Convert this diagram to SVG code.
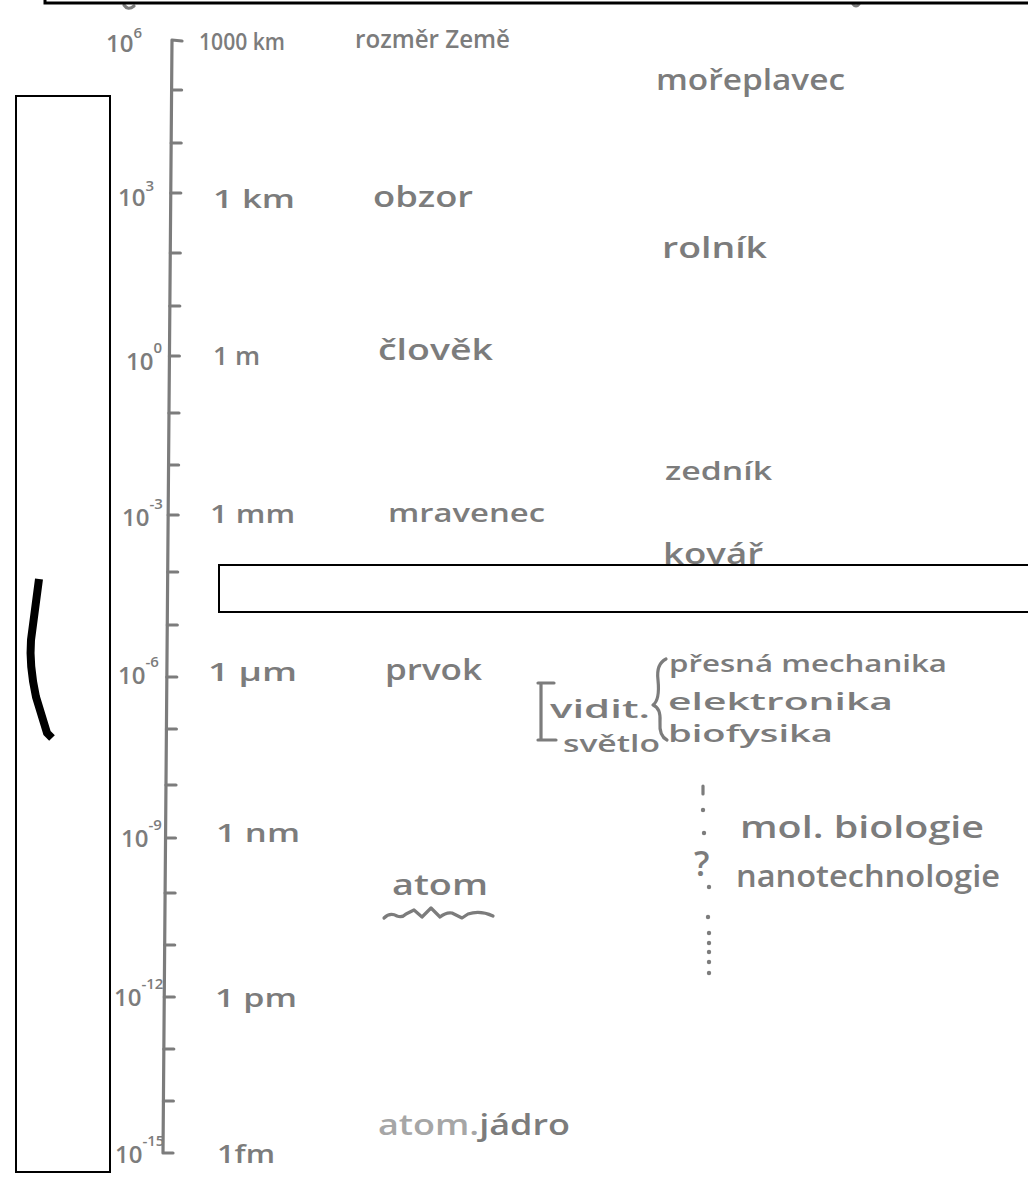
<svg xmlns="http://www.w3.org/2000/svg" width="1028" height="1178" viewBox="0 0 1028 1178">
<style>
.hw{font-family:"Open Sans","Liberation Sans",sans-serif;font-weight:600;fill:#7c7c7c}
.ex{font-family:"Open Sans","Liberation Sans",sans-serif;font-weight:600;fill:#7c7c7c;font-size:24px}
.sup{font-size:15px}
.ink{fill:none;stroke:#7c7c7c;stroke-width:3.2;stroke-linecap:round;stroke-linejoin:round}
.box{fill:#ffffff;stroke:#000000;stroke-width:2}
</style>
<rect width="1028" height="1178" fill="#ffffff"/>

<g id="fragments">
<path class="ink" d="M124,5 Q128,11 134,6"/>
<path class="ink" d="M853,4 Q856,8 859,4"/>
</g>

<g id="axis">
<path class="ink" d="M182,41 L172,40 L163,1153 L173,1153"/>
<path class="ink" d="M171.6,90 h10 M171.2,143 h10 M170.8,193 h10 M170.3,253 h10 M169.8,306 h10 M169.4,356 h10 M169,413 h10 M168.6,465 h10 M168.2,515 h10 M167.7,572 h10 M167.3,625 h10 M166.8,677 h10 M166.4,729 h10 M166,785 h10 M165.5,838 h10 M165.1,893 h10 M164.7,945 h10 M164.3,997 h10 M163.8,1049 h10 M163.4,1101 h10"/>
</g>

<g id="exponents">
<text class="ex" x="106" y="52">10<tspan class="sup" dy="-14">6</tspan></text>
<text class="ex" x="118" y="206">10<tspan class="sup" dy="-15">3</tspan></text>
<text class="ex" x="126" y="370">10<tspan class="sup" dy="-17">0</tspan></text>
<text class="ex" x="122" y="526">10<tspan class="sup" dy="-17">-3</tspan></text>
<text class="ex" x="118" y="684">10<tspan class="sup" dy="-17">-6</tspan></text>
<text class="ex" x="121" y="847">10<tspan class="sup" dy="-17">-9</tspan></text>
<text class="ex" x="114" y="1006">10<tspan class="sup" dy="-17">-12</tspan></text>
<text class="ex" x="115" y="1163">10<tspan class="sup" dy="-17">-15</tspan></text>
</g>

<g id="units">
<text class="hw" x="199" y="50" font-size="24" textLength="86" lengthAdjust="spacingAndGlyphs">1000 km</text>
<text class="hw" x="213" y="208" font-size="26" textLength="82" lengthAdjust="spacingAndGlyphs">1 km</text>
<text class="hw" x="213" y="365" font-size="26" textLength="47" lengthAdjust="spacingAndGlyphs">1 m</text>
<text class="hw" x="210" y="523" font-size="26" textLength="85" lengthAdjust="spacingAndGlyphs">1 mm</text>
<text class="hw" x="208" y="681" font-size="26" textLength="89" lengthAdjust="spacingAndGlyphs">1 μm</text>
<text class="hw" x="216" y="842" font-size="26" textLength="84" lengthAdjust="spacingAndGlyphs">1 nm</text>
<text class="hw" x="215" y="1007" font-size="26" textLength="82" lengthAdjust="spacingAndGlyphs">1 pm</text>
<text class="hw" x="217" y="1163" font-size="26" textLength="58" lengthAdjust="spacingAndGlyphs">1fm</text>
</g>

<g id="objects">
<text class="hw" x="355" y="48" font-size="26" textLength="155" lengthAdjust="spacingAndGlyphs">rozměr Země</text>
<text class="hw" x="373" y="207" font-size="28" textLength="100" lengthAdjust="spacingAndGlyphs">obzor</text>
<text class="hw" x="378" y="360" font-size="28" textLength="115" lengthAdjust="spacingAndGlyphs">člověk</text>
<text class="hw" x="388" y="522" font-size="26" textLength="157" lengthAdjust="spacingAndGlyphs">mravenec</text>
<text class="hw" x="385" y="680" font-size="28" textLength="97" lengthAdjust="spacingAndGlyphs">prvok</text>
<text class="hw" x="392" y="895" font-size="28" textLength="96" lengthAdjust="spacingAndGlyphs">atom</text>
<path class="ink" d="M384,918 Q390,912 397,916 Q402,918 406,914 L414,910 L422,917 L431,908 L440,917 Q446,912 452,913 Q458,916 462,918 L468,914 Q480,910 493,916"/>
<text class="hw" x="378" y="1135" font-size="28" textLength="192" lengthAdjust="spacingAndGlyphs"><tspan fill="#a6a6a6">atom.</tspan>jádro</text>
</g>

<g id="professions">
<text class="hw" x="656" y="90" font-size="28" textLength="189" lengthAdjust="spacingAndGlyphs">mořeplavec</text>
<text class="hw" x="662" y="258" font-size="28" textLength="105" lengthAdjust="spacingAndGlyphs">rolník</text>
<text class="hw" x="665" y="480" font-size="26" textLength="107" lengthAdjust="spacingAndGlyphs">zedník</text>
<text class="hw" x="663" y="564" font-size="28" textLength="100" lengthAdjust="spacingAndGlyphs">kovář</text>
</g>

<g id="microscope">
<path class="ink" d="M538,683 L554,683 M541,683 L541,740 M538,740 L556,740"/>
<text class="hw" x="550" y="718" font-size="26" textLength="100" lengthAdjust="spacingAndGlyphs">vidit.</text>
<text class="hw" x="563" y="752" font-size="24" textLength="97" lengthAdjust="spacingAndGlyphs">světlo</text>
<path class="ink" d="M666,659 Q656,664 658,680 Q660,700 653,705 Q661,708 660,722 Q659,736 667,740"/>
<text class="hw" x="669" y="672" font-size="24" textLength="278" lengthAdjust="spacingAndGlyphs">přesná mechanika</text>
<text class="hw" x="668" y="710" font-size="24" textLength="225" lengthAdjust="spacingAndGlyphs">elektronika</text>
<text class="hw" x="668" y="742" font-size="24" textLength="165" lengthAdjust="spacingAndGlyphs">biofysika</text>
</g>

<g id="nano">
<path class="ink" d="M703,786 L703,794"/>
<g fill="#7c7c7c">
<circle cx="703" cy="810" r="2.2"/>
<circle cx="704" cy="833" r="2.2"/>
<circle cx="709" cy="887" r="2.2"/>
<circle cx="708" cy="917" r="2.2"/>
<circle cx="709" cy="933" r="2.2"/>
<circle cx="709" cy="943" r="2.2"/>
<circle cx="709" cy="952" r="2.2"/>
<circle cx="709" cy="962" r="2.2"/>
<circle cx="709" cy="973" r="2.2"/>
</g>
<text class="hw" x="694" y="876" font-size="34">?</text>
<text class="hw" x="740" y="838" font-size="30" textLength="244" lengthAdjust="spacingAndGlyphs">mol. biologie</text>
<text class="hw" x="736" y="887" font-size="30" textLength="264" lengthAdjust="spacingAndGlyphs">nanotechnologie</text>
</g>

<g id="overlays">
<rect x="45" y="-30" width="1000" height="33" fill="#ffffff" stroke="#000000" stroke-width="3"/>
<rect class="box" x="16" y="96" width="94" height="1076"/>
<rect class="box" x="219" y="565" width="820" height="47"/>
<path d="M39,579 L31,640 Q29,665 36,697 L47,733 L52,738" fill="none" stroke="#000000" stroke-width="8"/>
</g>
</svg>
